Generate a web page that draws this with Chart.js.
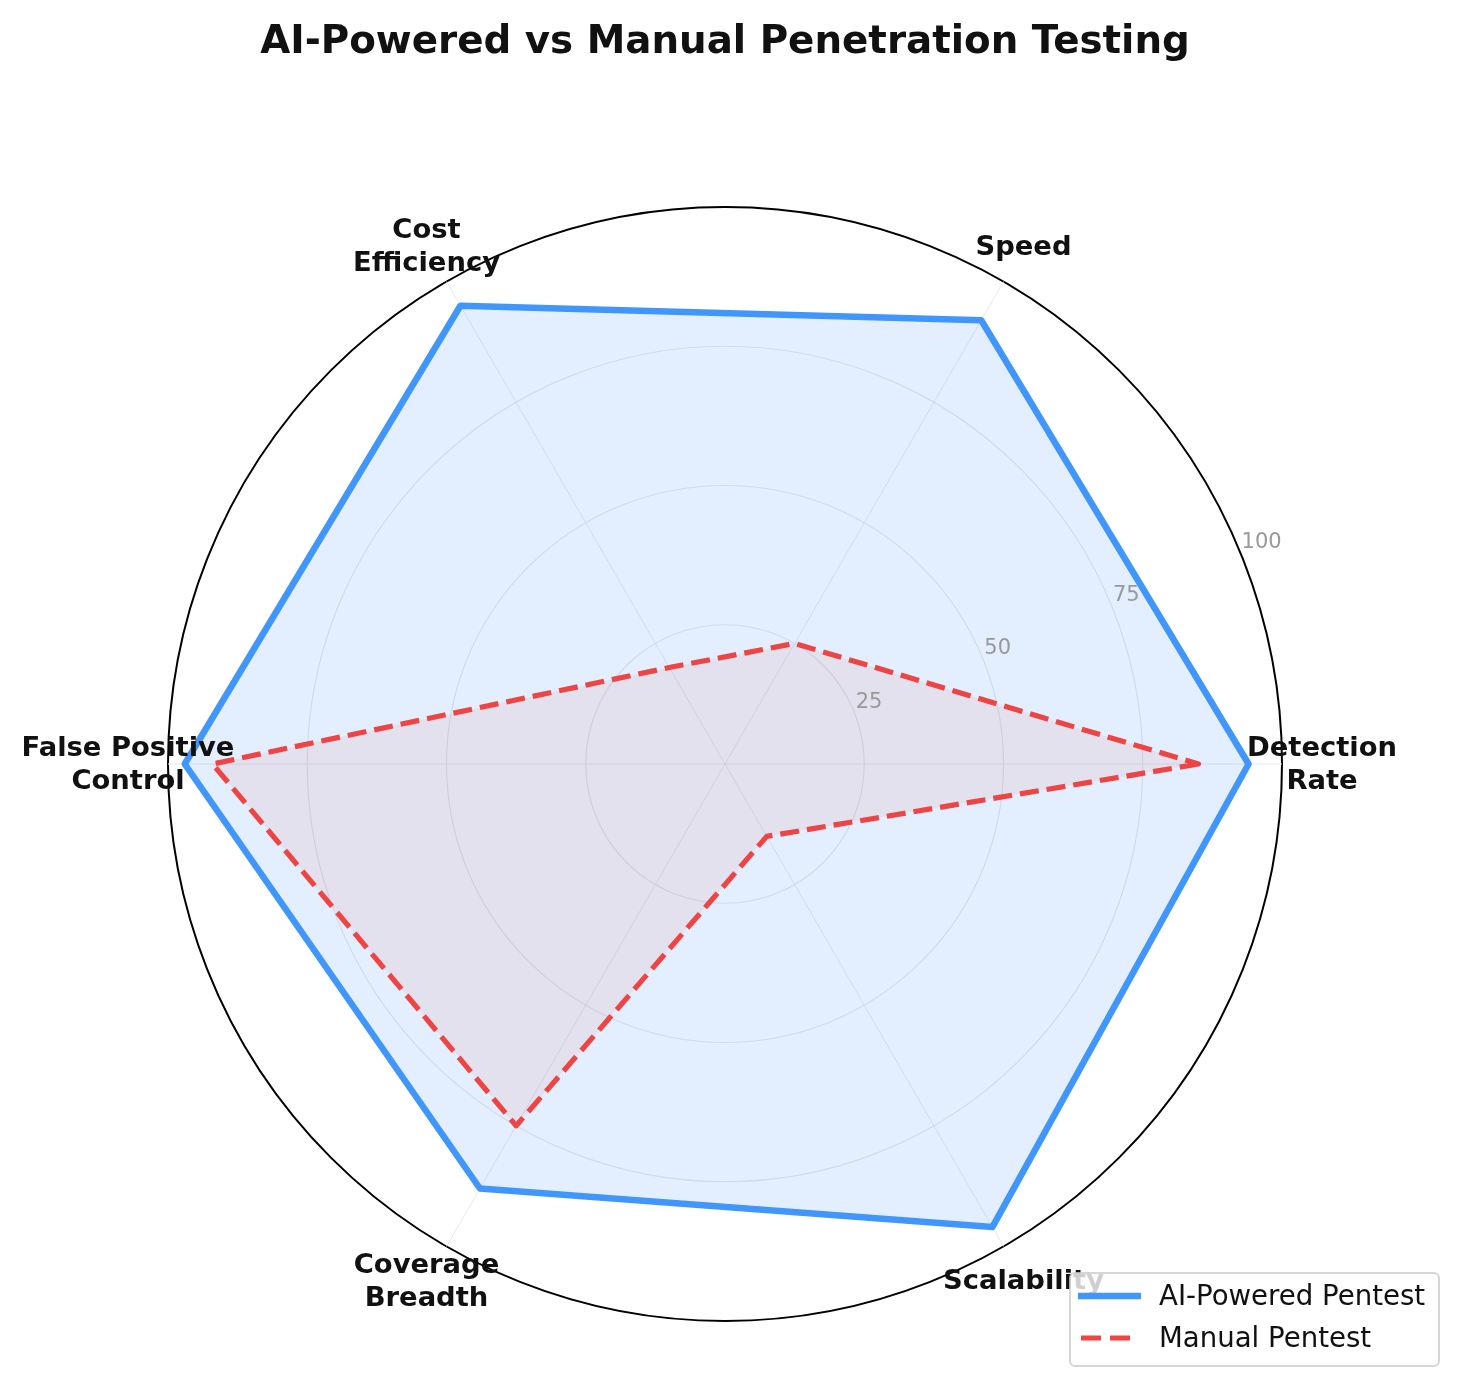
<!DOCTYPE html>
<html>
<head>
<meta charset="utf-8">
<title>AI-Powered vs Manual Penetration Testing</title>
<script src="https://cdn.jsdelivr.net/npm/chart.js@4.4.1/dist/chart.umd.min.js"></script>
<style>
  html, body { margin: 0; padding: 0; background: #fff; }
  #wrap { position: relative; width: 1457px; height: 1385px; }
  #radarChart { position: absolute; left: 0; top: 0; }
  #title {
    position: absolute; left: 0; top: 17px; width: 1450px; margin: 0;
    text-align: center; line-height: 1; color: #111;
    font: bold 38.8px "DejaVu Sans", sans-serif;
  }
</style>
</head>
<body>
<div id="wrap">
  <canvas id="radarChart" width="1457" height="1385"></canvas>
  <h1 id="title">AI-Powered vs Manual Penetration Testing</h1>
</div>
<script>
/* ── DATA (scores 0-100, matplotlib order: counter-clockwise from the right) ── */
var CATEGORIES    = [["Detection", "Rate"], ["Speed"], ["Cost", "Efficiency"],
                     ["False Positive", "Control"], ["Coverage", "Breadth"], ["Scalability"]];
var AI_SCORES     = [94, 92, 95, 97, 88, 96];
var MANUAL_SCORES = [85, 25, 20, 92, 75, 15];
var SERIES_NAMES  = ["AI-Powered Pentest", "Manual Pentest"];
var TICK_VALUES   = [25, 50, 75, 100];

/* ── THEME COLOURS ── */
var C = {
  blue: "#4096fa", blueFill: "rgba(64,150,250,0.15)",
  red: "#ef4444",  redFill: "rgba(239,68,68,0.08)",
  text: "#111111", tick: "#999999",
  grid: "#e8e8e8", spoke: "#e6e9ee", rim: "#000000"
};

/* Chart.js walks clockwise, the reference goes counter-clockwise */
var ORDER = [0, 5, 4, 3, 2, 1];
function pick(arr) { return ORDER.map(function (i) { return arr[i]; }); }

/* ── category labels centred just outside the rim + radial tick labels at 22.5° ── */
var labelPlugin = {
  id: "outerLabels",
  afterDatasetsDraw: function (chart) {
    var r = chart.scales.r, ctx = chart.ctx;
    ctx.save();
    ctx.font = "bold 27.4px 'DejaVu Sans'";
    ctx.fillStyle = C.text;
    ctx.textAlign = "center";
    ctx.textBaseline = "alphabetic";
    chart.data.labels.forEach(function (lines, i) {
      var p = r.getPointPosition(i, r.drawingArea + 40);
      var n = lines.length;
      lines.forEach(function (line, j) {
        ctx.fillText(line, p.x, p.y + 8 + (j - (n - 1) / 2) * 33);
      });
    });

    ctx.font = "21px 'DejaVu Sans'";
    ctx.fillStyle = C.tick;
    ctx.textAlign = "left";
    var a = 22.5 * Math.PI / 180;
    TICK_VALUES.forEach(function (v) {
      var d = r.getDistanceFromCenterForValue(v);
      ctx.fillText(String(v), r.xCenter + Math.cos(a) * d + 2, r.yCenter - Math.sin(a) * d - 3);
    });
    ctx.restore();
  }
};

/* ── boxed legend, bottom right ── */
var legendPlugin = {
  id: "boxLegend",
  afterDraw: function (chart) {
    var ctx = chart.ctx;
    var x = 1070, y = 1273, w = 369, h = 93;
    ctx.save();
    ctx.beginPath();
    ctx.roundRect(x, y, w, h, 5);
    ctx.fillStyle = "rgba(255,255,255,0.8)";
    ctx.fill();
    ctx.lineWidth = 2;
    ctx.strokeStyle = "rgba(204,204,204,0.8)";
    ctx.stroke();

    ctx.font = "27.6px 'DejaVu Sans'";
    ctx.textAlign = "left";
    ctx.textBaseline = "alphabetic";
    chart.data.datasets.forEach(function (ds, i) {
      var ly = y + 23 + i * 42;
      ctx.beginPath();
      ctx.setLineDash(ds.borderDash ? [20, 9] : []);
      ctx.lineDashOffset = -3;
      ctx.lineWidth = ds.borderWidth;
      ctx.strokeStyle = ds.borderColor;
      ctx.moveTo(x + 8, ly);
      ctx.lineTo(ds.borderDash ? x + 61 : x + 71, ly);
      ctx.stroke();
      ctx.setLineDash([]);
      ctx.fillStyle = C.text;
      ctx.fillText(ds.label, x + 89, ly + 9);
    });
    ctx.restore();
  }
};

new Chart(document.getElementById("radarChart"), {
  type: "radar",
  data: {
    labels: pick(CATEGORIES),
    datasets: [
      {
        label: SERIES_NAMES[0],
        data: pick(AI_SCORES),
        borderColor: C.blue,
        backgroundColor: C.blueFill,
        borderWidth: 6.5,
        borderJoinStyle: "round",
        pointRadius: 0,
        fill: true,
        order: 2
      },
      {
        label: SERIES_NAMES[1],
        data: pick(MANUAL_SCORES),
        borderColor: C.red,
        backgroundColor: C.redFill,
        borderWidth: 5.2,
        borderDash: [19, 8],
        borderJoinStyle: "round",
        pointRadius: 0,
        fill: true,
        order: 1
      }
    ]
  },
  options: {
    responsive: false,
    devicePixelRatio: 1,
    animation: false,
    layout: { padding: { left: 168, right: 174, top: 206, bottom: 63 } },
    plugins: {
      legend: { display: false },
      title: { display: false },
      tooltip: { enabled: false }
    },
    scales: {
      r: {
        min: 0,
        max: 100,
        startAngle: 90,
        ticks: { stepSize: 25, display: false },
        pointLabels: { display: false },
        grid: {
          circular: true,
          color: function (ctx) { return ctx.tick && ctx.tick.value === 100 ? C.rim : C.grid; },
          lineWidth: function (ctx) { return ctx.tick && ctx.tick.value === 100 ? 2 : 1.2; }
        },
        angleLines: { color: C.spoke, lineWidth: 1 }
      }
    }
  },
  plugins: [labelPlugin, legendPlugin]
});
</script>
</body>
</html>
